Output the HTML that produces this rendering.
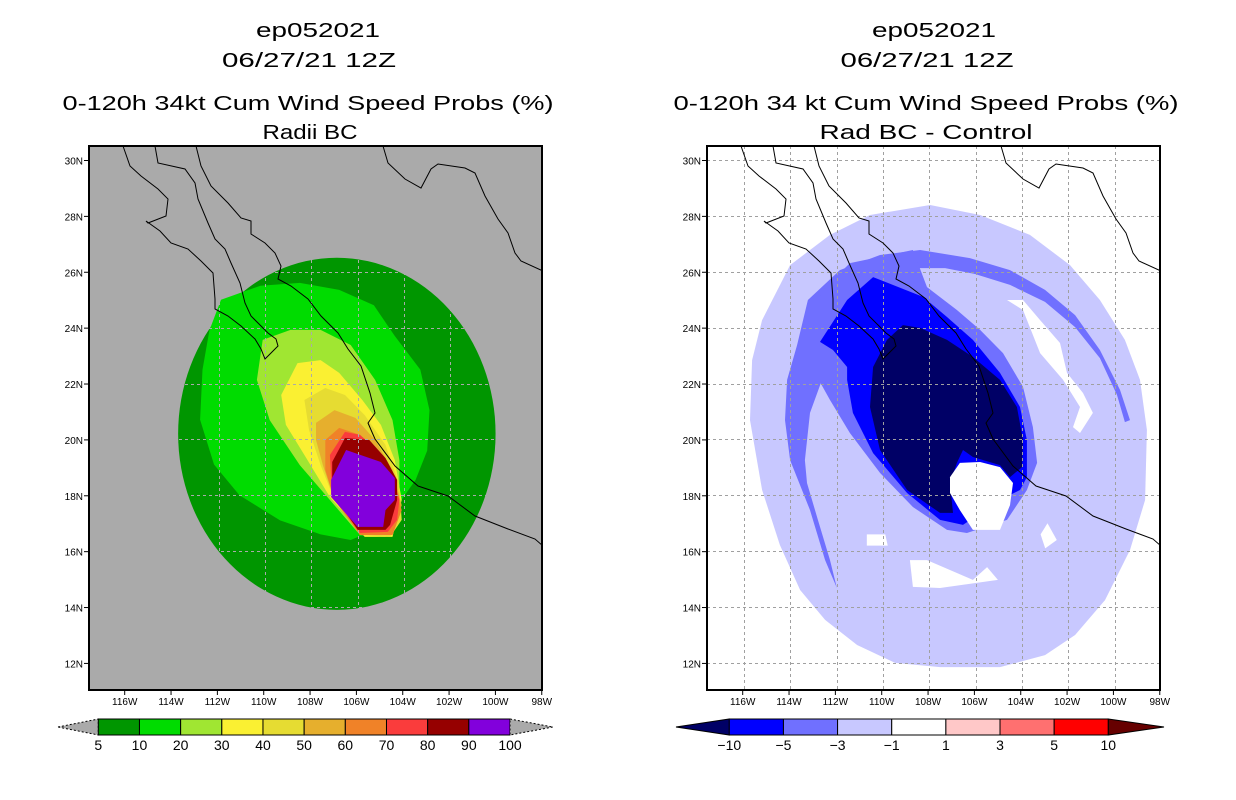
<!DOCTYPE html>
<html><head><meta charset="utf-8">
<style>
html,body{margin:0;padding:0;background:#fff;}
svg{display:block;font-family:"Liberation Sans","DejaVu Sans",sans-serif;}
</style></head>
<body>
<svg id="chart" width="1236" height="800" viewBox="0 0 1236 800" xmlns="http://www.w3.org/2000/svg">
<defs>
<clipPath id="clipL"><rect x="89" y="146" width="453" height="544"/></clipPath>
<clipPath id="clipR"><rect x="707" y="146" width="453" height="544"/></clipPath>
</defs>
<g id="titles" font-size="20" fill="#000" text-anchor="middle">
<text x="318" y="37" textLength="124" lengthAdjust="spacingAndGlyphs">ep052021</text>
<text x="309" y="67" textLength="174" lengthAdjust="spacingAndGlyphs">06/27/21 12Z</text>
<text x="308" y="110" textLength="491" lengthAdjust="spacingAndGlyphs">0-120h 34kt Cum Wind Speed Probs (%)</text>
<text x="310" y="139" textLength="95" lengthAdjust="spacingAndGlyphs">Radii BC</text>
<text x="934" y="37" textLength="124" lengthAdjust="spacingAndGlyphs">ep052021</text>
<text x="927" y="67" textLength="173" lengthAdjust="spacingAndGlyphs">06/27/21 12Z</text>
<text x="926" y="110" textLength="505" lengthAdjust="spacingAndGlyphs">0-120h 34 kt Cum Wind Speed Probs (%)</text>
<text x="926" y="139" textLength="213" lengthAdjust="spacingAndGlyphs">Rad BC - Control</text>
</g>
<g id="panelL"></g>
<g id="panelR"></g>
<g id="cbars"></g>
</svg>
<script>
// ---- data (lon negative = W, lat N) ----
const lonTicks = [-116,-114,-112,-110,-108,-106,-104,-102,-100,-98];
const lonTickLabels = ["116W","114W","112W","110W","108W","106W","104W","102W","100W","98W"];
const latTicks = [12,14,16,18,20,22,24,26,28,30];
const latTickLabels = ["12N","14N","16N","18N","20N","22N","24N","26N","28N","30N"];

const probLevels = ["5","10","20","30","40","50","60","70","80","90","100"];
const probColors = ["#009600","#00dc00","#a0e632","#faf032","#e6dc32","#e6af2d","#f08228","#fa3c3c","#960000","#8200dc"];
const diffLevels = ["-10","-5","-3","-1","1","3","5","10"];
const diffColors = ["#000066","#0000ff","#7070ff","#c8c8ff","#ffffff","#ffc8c8","#ff7070","#ff0000","#660000"];

// 5% contour (ellipse): center lon, lat, radius lon, radius lat
const prob5Center = [-106.9, 20.2];
const prob5Radius = [6.85, 6.3];
const prob10 = [[-111.9,25.0],[-110.2,25.5],[-108.5,25.6],[-106.8,25.35],[-105.3,24.8],[-104.4,23.7],[-103.3,22.5],[-102.9,21.05],[-103.0,19.6],[-103.5,18.55],[-104.4,17.5],[-105.3,16.75],[-106.3,16.4],[-107.6,16.6],[-109.35,17.1],[-111.1,18.0],[-112.2,19.1],[-112.8,20.7],[-112.7,22.5],[-112.4,23.9]];
const prob20 = [[-110.1,23.56],[-108.9,23.92],[-107.6,23.92],[-106.3,23.38],[-105.25,22.13],[-104.5,20.69],[-104.2,19.26],[-104.2,17.83],[-104.8,16.51],[-105.9,16.58],[-107.2,17.83],[-108.5,19.08],[-109.8,20.69],[-110.35,22.13]];
const prob30 = [[-108.6,22.73],[-107.6,22.84],[-106.8,22.38],[-105.8,21.41],[-105.0,20.52],[-104.4,19.26],[-104.1,17.83],[-104.5,16.51],[-105.7,16.51],[-107.2,17.94],[-108.3,19.44],[-109.1,20.52],[-109.3,21.59]];
const prob40 = [[-108.3,21.41],[-107.4,21.84],[-106.55,21.59],[-105.7,20.87],[-104.8,19.8],[-104.2,18.37],[-104.1,17.12],[-104.6,16.51],[-105.9,16.58],[-107.0,17.83],[-107.6,19.08],[-108.1,20.34]];
const prob50 = [[-107.8,20.59],[-107.0,21.05],[-106.1,20.77],[-105.25,19.98],[-104.5,18.91],[-104.1,17.65],[-104.5,16.58],[-105.9,16.58],[-107.0,17.83],[-107.5,19.08],[-107.8,19.98]];
const prob60 = [[-107.4,19.98],[-106.8,20.41],[-105.9,20.16],[-105.0,19.44],[-104.4,18.37],[-104.1,17.47],[-104.5,16.58],[-105.9,16.58],[-107.0,17.83],[-107.4,18.91]];
const prob70 = [[-107.2,19.44],[-106.55,20.27],[-105.9,20.16],[-105.25,19.69],[-104.5,18.73],[-104.2,17.83],[-104.3,17.12],[-104.7,16.69],[-105.9,16.65],[-107.1,18.01]];
const prob80 = [[-107.1,19.19],[-106.55,20.05],[-105.5,19.98],[-104.8,19.33],[-104.3,18.55],[-104.3,17.83],[-104.6,16.94],[-104.8,16.76],[-106.0,16.76],[-107.1,18.08]];
const prob90 = [[-107.15,18.55],[-106.5,19.62],[-105.0,19.19],[-104.4,18.62],[-104.4,17.83],[-104.8,17.47],[-104.9,16.87],[-106.0,16.87],[-107.15,17.94]];

const diffM1 = [[-110.56,28.03],[-107.97,28.39],[-105.81,28.03],[-103.66,27.32],[-101.93,26.24],[-100.64,24.99],[-99.56,23.56],[-98.91,22.13],[-98.61,20.34],[-98.69,17.83],[-99.34,16.04],[-100.42,14.25],[-101.71,13.0],[-103.01,12.28],[-104.95,11.85],[-107.54,11.85],[-109.48,12.0],[-111.12,12.64],[-112.5,13.54],[-113.58,14.61],[-114.45,16.22],[-115.22,18.19],[-115.74,20.69],[-115.65,22.84],[-115.22,24.27],[-114.01,26.24],[-112.29,27.32]];
const diffM3ring = [[-111.99,14.68],[-112.5,15.68],[-113.15,17.47],[-114.01,19.26],[-114.23,20.69],[-114.14,22.13],[-113.71,23.38],[-113.24,24.99],[-111.86,26.06],[-110.13,26.6],[-108.4,26.78],[-106.25,26.49],[-104.52,26.06],[-103.01,25.35],[-101.71,24.45],[-100.64,23.2],[-99.77,21.77],[-99.34,20.69],[-99.56,20.62],[-99.9,21.59],[-100.64,22.91],[-101.71,24.02],[-103.01,24.92],[-104.52,25.53],[-106.03,25.92],[-107.32,26.13],[-108.4,26.13],[-110.13,25.71],[-111.86,24.27],[-112.59,22.23],[-113.15,20.95],[-113.37,19.26],[-113.28,18.44],[-112.81,17.12],[-112.29,15.68]];
const diffM3core = [[-112.59,25.35],[-111.43,26.31],[-108.71,26.78],[-108.1,25.45],[-106.81,24.63],[-105.81,23.92],[-104.82,23.09],[-103.96,21.88],[-103.53,20.44],[-103.35,19.16],[-103.79,18.19],[-104.65,17.12],[-106.38,16.65],[-107.24,16.76],[-108.71,17.58],[-110.13,18.8],[-111.43,20.23],[-112.29,21.41],[-112.94,22.38],[-113.37,23.92]];
const diffM5 = [[-112.72,23.49],[-111.55,24.99],[-110.43,25.81],[-108.27,25.1],[-107.24,24.38],[-106.12,23.56],[-104.95,22.38],[-104.09,21.16],[-103.79,19.98],[-103.79,18.65],[-104.09,18.19],[-104.95,17.83],[-106.55,16.94],[-107.54,17.12],[-108.96,18.08],[-110.43,19.51],[-111.3,20.95],[-111.55,22.13],[-111.55,22.59],[-112.16,23.2]];
const diffM10 = [[-109.14,24.09],[-108.4,23.99],[-107.24,23.56],[-106.12,22.95],[-104.95,22.13],[-104.22,21.16],[-103.96,19.98],[-104.0,19.01],[-104.52,18.65],[-104.95,19.08],[-106.12,19.37],[-106.55,19.62],[-106.81,19.16],[-107.11,18.44],[-106.98,17.37],[-107.54,17.37],[-108.96,18.19],[-110.13,19.62],[-110.56,21.16],[-110.43,22.59],[-109.83,23.56]];
const diffZeroA = [[-107.11,18.65],[-106.68,19.16],[-105.81,19.19],[-104.95,19.01],[-104.39,18.44],[-104.52,17.65],[-104.95,16.76],[-106.12,16.76],[-106.68,17.47],[-107.11,18.08]];
const diffZeroB = [[-104.65,24.99],[-103.96,24.99],[-103.22,24.27],[-102.36,23.45],[-102.06,22.38],[-101.37,21.66],[-100.94,20.95],[-101.5,20.23],[-101.8,20.44],[-101.5,21.16],[-102.23,22.13],[-103.22,23.09],[-103.96,24.63]];
const diffZeroC = [[-108.84,15.68],[-108.1,15.68],[-106.12,14.97],[-105.51,15.43],[-105.04,14.97],[-107.54,14.68],[-108.71,14.72]];
const diffZeroD = [[-110.7,16.6],[-109.9,16.6],[-109.8,16.2],[-110.7,16.2]];
const diffZeroE = [[-102.9,17.0],[-102.5,16.4],[-103.0,16.1],[-103.2,16.6]];

// ---- projection ----
const NS = "http://www.w3.org/2000/svg";
const X0 = 126, Y0 = 160, KX = 23.17, KY = 27.94;
function px(lon, off){ return X0 + off + (lon + 116) * KX; }
function py(lat){ return Y0 + (30 - lat) * KY; }
function mk(tag, attrs, parent){
  const e = document.createElementNS(NS, tag);
  for (const k in attrs) e.setAttribute(k, attrs[k]);
  parent.appendChild(e); return e;
}
function polyPts(arr, off){ return arr.map(p => px(p[0],off).toFixed(1)+","+py(p[1]).toFixed(1)).join(" "); }

// coastline (panel-local pixel offsets, geographic background)
const coastBaja = [[34,0],[41,20],[52,30],[69,43],[79,53],[77,70],[59,77],[57,75],[71,85],[82,97],[99,103],[112,115],[124,127],[126,153],[126,163],[139,170],[152,180],[166,193],[172,203],[176,213],[181,208],[189,200],[187,193],[179,187],[162,170],[156,157],[151,137],[142,117],[136,103],[126,93],[119,77],[109,53],[106,37],[96,23],[69,17],[66,0]];
const coastMain = [[107,0],[112,20],[122,40],[139,57],[152,72],[162,75],[162,88],[176,97],[186,107],[192,120],[189,133],[202,140],[219,153],[232,170],[249,187],[259,203],[272,220],[281,247],[286,267],[279,277],[286,293],[306,320],[329,340],[359,350],[386,370],[419,383],[446,393],[454,400]];
const coastGulf = [[294,0],[299,17],[316,33],[332,42],[342,23],[349,18],[376,22],[386,27],[396,50],[409,73],[419,87],[426,107],[432,115],[454,125]];

function drawPanel(g, off, clipId, bg){
  mk("rect",{x:89+off,y:146,width:453,height:544,fill:bg,},g);
  const c = mk("g",{"clip-path":"url(#"+clipId+")"},g);
  return c;
}
function drawGridCoast(c, off, gridColor){
  const gg = mk("g",{stroke:gridColor,"stroke-width":1,"stroke-dasharray":"3,3",fill:"none"},c);
  lonTicks.forEach(l=>{ const x=Math.round(px(l,off))+0.5; const ln=mk("line",{x1:x,y1:146,x2:x,y2:690},gg);
    
     });
  latTicks.forEach(l=>{ const y=Math.round(py(l))+0.5; const ln=mk("line",{x1:89+off,y1:y,x2:542+off,y2:y},gg);
    
     });
  [coastBaja,coastMain,coastGulf].forEach(cs=>{
    const pl = mk("polyline",{points:cs.map(p=>(89+off+p[0])+","+(146+p[1])).join(" "),fill:"none",stroke:"#000","stroke-width":1},c);
    
    
  });
}
function drawAxes(g, off){
  mk("rect",{x:89+off,y:146,width:453,height:544,fill:"none",stroke:"#000","stroke-width":2},g);
  lonTicks.forEach((l,i)=>{ const x=px(l,off)-1.3;
    mk("line",{x1:x,y1:690,x2:x,y2:695,stroke:"#000","stroke-width":1},g);
    const t=mk("text",{x:x,y:705,"font-size":10,"text-anchor":"middle"},g); t.textContent=lonTickLabels[i];
    
     });
  latTicks.forEach((l,i)=>{ const y=py(l)+0.5;
    mk("line",{x1:84+off,y1:y,x2:89+off,y2:y,stroke:"#000","stroke-width":1},g);
    const t=mk("text",{x:83+off,y:y+4,"font-size":10,"text-anchor":"end"},g); t.textContent=latTickLabels[i];
    
     });
}

// ---- left panel ----
const gL = document.getElementById("panelL");
const cL = drawPanel(gL, 0, "clipL", "#aaaaaa");
const e5 = mk("ellipse",{cx:px(prob5Center[0],0),cy:py(prob5Center[1]),rx:prob5Radius[0]*KX,ry:prob5Radius[1]*KY,fill:probColors[0]},cL);


[prob10,prob20,prob30,prob40,prob50,prob60,prob70,prob80,prob90].forEach((poly,i)=>{
  const p = mk("polygon",{points:polyPts(poly,0),fill:probColors[i+1]},cL);
  
  
});
drawGridCoast(cL, 0, "#aaaaaa");
drawAxes(gL, 0);

// ---- right panel ----
const OFF = 618;
const gR = document.getElementById("panelR");
const cR = drawPanel(gR, OFF, "clipR", "#ffffff");
const rShapes = [[diffM1,3,"diff-minus1"],[diffM3ring,2,"diff-minus3-ring"],[diffM3core,2,"diff-minus3-core"],[diffM5,1,"diff-minus5"],[diffM10,0,"diff-minus10"],[diffZeroA,4,"diff-zero-center"],[diffZeroB,4,"diff-zero-ne"],[diffZeroC,4,"diff-zero-south"],[diffZeroD,4,"diff-zero-sw"],[diffZeroE,4,"diff-zero-se"]];
rShapes.forEach(s=>{
  const p = mk("polygon",{points:polyPts(s[0],OFF),fill:diffColors[s[1]]},cR);
  
  
});
drawGridCoast(cR, OFF, "#a0a0a0");
drawAxes(gR, OFF);

// ---- colorbars ----
const cb = document.getElementById("cbars");
function colorbar(x0, x1, tipL, tipR, colors, labels, leftTri, rightTri, name){
  const y0 = 719, h = 16, n = colors.length - (leftTri?1:0) - (rightTri?1:0);
  const w = (x1 - x0) / n;
  let ci = 0;
  if (leftTri){ const t=mk("polygon",{points:tipL+","+(y0+h/2)+" "+x0+","+y0+" "+x0+","+(y0+h),fill:colors[0],stroke:"#000","stroke-width":1,"stroke-dasharray":leftTri==="dash"?"2,2":"none"},cb);
    
     ci=1; }
  for (let i=0;i<n;i++){
    const r = mk("rect",{x:x0+i*w,y:y0,width:w,height:h,fill:colors[ci+i],stroke:"#000","stroke-width":1},cb);
    
    
  }
  if (rightTri){ const t=mk("polygon",{points:x1+","+y0+" "+tipR+","+(y0+h/2)+" "+x1+","+(y0+h),fill:colors[colors.length-1],stroke:"#000","stroke-width":1,"stroke-dasharray":rightTri==="dash"?"2,2":"none"},cb);
    
     }
  const start = leftTri ? 0 : 0;
  labels.forEach((lb,i)=>{
    const t = mk("text",{x:x0+i*w,y:750,"font-size":14,"text-anchor":"middle"},cb);
    t.textContent = lb.replace("-","\u2212");
    
    
  });
}
colorbar(98.3, 510, 58, 553, ["#aaaaaa"].concat(probColors).concat(["#aaaaaa"]), probLevels, "dash", "dash", "prob-colorbar");
colorbar(729.3, 1108.3, 676, 1164, diffColors, diffLevels, true, true, "diff-colorbar");
</script>
</body></html>
